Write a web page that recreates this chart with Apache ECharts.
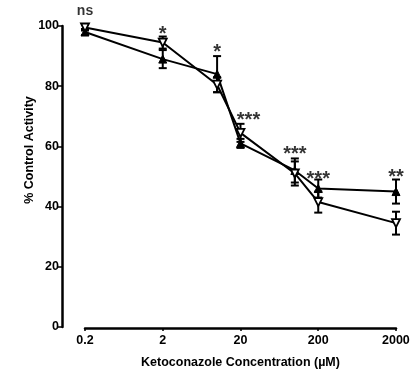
<!DOCTYPE html>
<html>
<head>
<meta charset="utf-8">
<script src="https://cdn.jsdelivr.net/npm/echarts@6/dist/echarts.min.js"></script>
<style>html,body{margin:0;padding:0;background:#fff}#c{width:417px;height:369px}</style>
</head>
<body>
<div id="c"></div>
<script>
// Data
const concentrations = [0.2, 2, 10, 20, 100, 200, 2000];
const filledUp = [98, 89, 84, 61, 52, 46, 45];      // filled triangles
const filledUpErr = [1, 3, 6, 1.5, 4, 3, 4];
const openDown = [99.5, 94.5, 80.5, 64.5, 51, 41.5, 34.5]; // open triangles
const openDownErr = [1, 2, 2.5, 3, 4, 3.5, 3.8];
const sigLabels = ['ns', '*', '*', '***', '***', '***', '**'];
const sigY = [105, 98.5, 92.5, 70, 58.5, 50.5, 51];
const xTickLabels = ['0.2', '2', '20', '200', '2000'];
const yTicks = [0, 20, 40, 60, 80, 100];

const lg = v => Math.log10(v);
const xMin = lg(0.2), xMax = lg(2000);
const FONT = '"Liberation Sans", Arial, sans-serif';

function errSeries(vals, errs) {
  return {
    type: 'custom',
    data: concentrations.map((c, i) => [lg(c), vals[i], errs[i]]),
    renderItem: function (params, api) {
      const x = api.value(0), y = api.value(1), e = api.value(2);
      const top = api.coord([x, y + e]);
      const bot = api.coord([x, y - e]);
      const w = 4;
      const st = { stroke: '#000', lineWidth: 2 };
      return {
        type: 'group',
        children: [
          { type: 'line', shape: { x1: top[0], y1: top[1], x2: bot[0], y2: bot[1] }, style: st },
          { type: 'line', shape: { x1: top[0] - w, y1: top[1], x2: top[0] + w, y2: top[1] }, style: st },
          { type: 'line', shape: { x1: bot[0] - w, y1: bot[1], x2: bot[0] + w, y2: bot[1] }, style: st }
        ]
      };
    },
    z: 1,
    silent: true
  };
}

const chart = echarts.init(document.getElementById('c'), null, { renderer: 'canvas' });
const xLabelOffsets = [0, 0, 0, 8, 0, 0, 0];

chart.setOption({
  animation: false,
  backgroundColor: '#fff',
  grid: { left: 85, right: 21, top: 26, bottom: 42, outerBoundsMode: 'none', containLabel: false },
  xAxis: {
    type: 'value',
    min: xMin,
    max: xMax,
    interval: 1,
    offset: 1,
    axisLine: { onZero: false, lineStyle: { color: '#000', width: 2.5 } },
    axisTick: { show: true, length: 3, lineStyle: { color: '#000', width: 1.5 } },
    splitLine: { show: false },
    axisLabel: {
      color: '#000', fontFamily: FONT, fontWeight: 'bold', fontSize: 12.5, margin: 6,
      formatter: function (v) {
        const idx = Math.round(v - xMin);
        return xTickLabels[idx] || '';
      }
    },
    name: 'Ketoconazole Concentration (\u00b5M)',
    nameLocation: 'middle',
    nameGap: 28,
    nameTextStyle: { color: '#000', fontFamily: FONT, fontWeight: 'bold', fontSize: 12.5 }
  },
  yAxis: {
    type: 'value',
    min: 0,
    max: 100,
    interval: 20,
    offset: 23,
    axisLine: { show: true, onZero: false, lineStyle: { color: '#000', width: 2.5 } },
    axisTick: { show: true, length: 4, lineStyle: { color: '#000', width: 1.5 } },
    splitLine: { show: false },
    axisLabel: {
      color: '#000', fontFamily: FONT, fontWeight: 'bold', fontSize: 12.5, margin: 3,
      formatter: v => (yTicks.indexOf(v) >= 0 ? String(v) : '')
    }
  },
  graphic: [{
    type: 'text',
    x: 30, y: 150,
    rotation: Math.PI / 2,
    style: {
      text: '% Control Activity',
      fill: '#000',
      font: 'bold 12.5px ' + FONT,
      textAlign: 'center',
      textVerticalAlign: 'middle'
    }
  }],
  series: [
    errSeries(filledUp, filledUpErr),
    errSeries(openDown, openDownErr),
    {
      type: 'line',
      data: concentrations.map((c, i) => [lg(c), filledUp[i]]),
      symbol: 'triangle',
      symbolSize: 8,
      lineStyle: { color: '#000', width: 2 },
      itemStyle: { color: '#000', borderColor: '#000', borderWidth: 1 },
      z: 3
    },
    {
      type: 'line',
      data: concentrations.map((c, i) => [lg(c), openDown[i]]),
      symbol: 'triangle',
      symbolRotate: 180,
      symbolSize: 8,
      lineStyle: { color: '#000', width: 2 },
      itemStyle: { color: '#fff', borderColor: '#000', borderWidth: 1.8 },
      z: 4
    },
    {
      type: 'scatter',
      symbol: 'circle',
      symbolSize: 0,
      silent: true,
      clip: false,
      data: concentrations.map((c, i) => ({
        value: [lg(c), sigY[i]],
        label: { offset: [xLabelOffsets[i], i === 0 ? 0 : 4], fontSize: i === 0 ? 14 : 20 }
      })),
      label: {
        show: true,
        position: 'inside',
        color: '#000',
        fontFamily: FONT,
        fontWeight: 'bold',
        fontSize: 20,
        formatter: p => sigLabels[p.dataIndex]
      },
      z: 5
    }
  ]
});
</script>
</body>
</html>
